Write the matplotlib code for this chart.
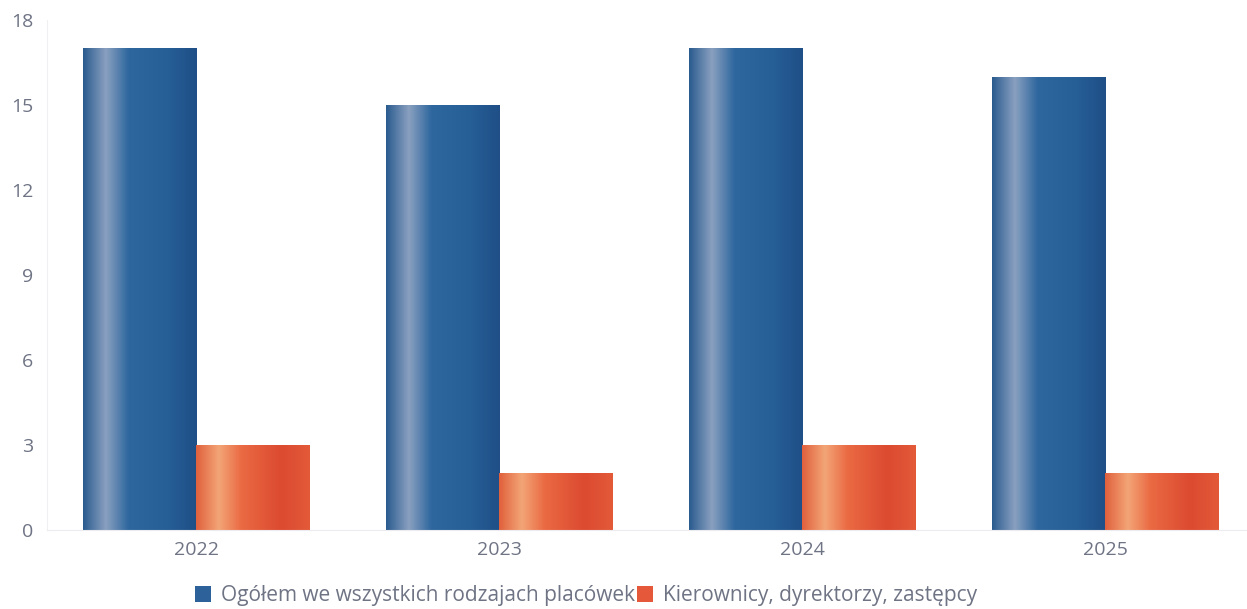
import matplotlib.pyplot as plt
import numpy as np
from matplotlib.colors import LinearSegmentedColormap
from matplotlib.patches import Patch

plt.rcParams['font.family'] = ['Open Sans', 'DejaVu Sans']

# Data
years = ['2022', '2023', '2024', '2025']
ogolem = [17, 15, 17, 16]
kierownicy = [3, 2, 3, 2]
labels = ['Ogółem we wszystkich rodzajach placówek', 'Kierownicy, dyrektorzy, zastępcy']

# cylinder-like shading across each bar
blue_cmap = LinearSegmentedColormap.from_list(
    'blue', [(0, '#2a5b8f'), (0.2, '#8aa0c0'), (0.4, '#2e679e'), (0.75, '#265e96'), (1, '#1f4f86')])
orange_cmap = LinearSegmentedColormap.from_list(
    'orange', [(0, '#e0603c'), (0.2, '#f3a577'), (0.4, '#ea6a43'), (0.75, '#dc4a30'), (1, '#e35a39')])

fig = plt.figure(figsize=(12.47, 6.09), dpi=100)
ax = fig.add_axes([47 / 1247, 1 - 530 / 609, 1 - 47 / 1247, 510 / 609])

x = np.arange(len(years))
width = 0.373
grad = np.linspace(0, 1, 256).reshape(1, -1)


def shaded_bars(xpos, values, cmap):
    bars = ax.bar(xpos, values, width, color='none', edgecolor='none')
    for b in bars:
        im = ax.imshow(grad, extent=[b.get_x(), b.get_x() + b.get_width(), 0, b.get_height()],
                       aspect='auto', cmap=cmap, zorder=2, interpolation='bicubic')
        im.set_clip_path(b)
    return bars


shaded_bars(x - width / 2, ogolem, blue_cmap)
shaded_bars(x + width / 2, kierownicy, orange_cmap)

ax.set_xlim(-0.493, 3.467)
ax.set_ylim(0, 18)
ax.set_yticks([0, 3, 6, 9, 12, 15, 18])
ax.set_xticks(x)
ax.set_xticklabels(years)
ax.tick_params(axis='both', length=0, labelsize=14, labelcolor='#6f7485')
ax.tick_params(axis='y', pad=10)
ax.tick_params(axis='x', pad=8)
for s in ['top', 'right']:
    ax.spines[s].set_visible(False)
ax.spines['left'].set_color('#f0f0f2')
ax.spines['bottom'].set_color('#ececf0')

handles = [Patch(facecolor='#2c6299'), Patch(facecolor='#e6583a')]
fig.legend(handles, labels, loc='center', bbox_to_anchor=(0.47, 0.022), ncol=2, frameon=False,
           fontsize=15, labelcolor='#6f7485', handlelength=0.75, handleheight=0.8,
           handletextpad=0.5, columnspacing=0.1)

fig.savefig('out.png', dpi=100)
